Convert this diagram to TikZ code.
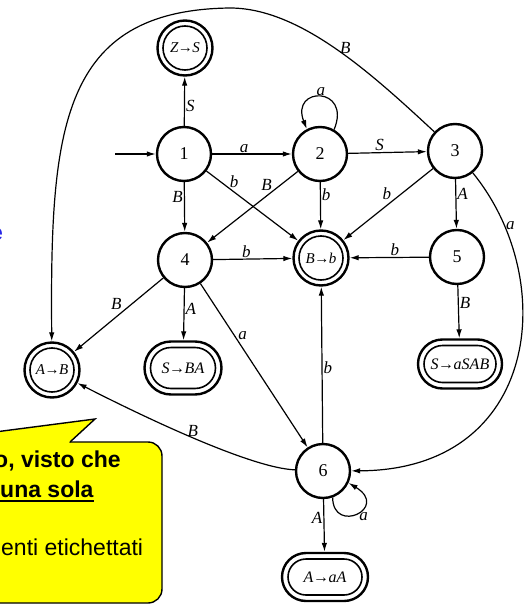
\documentclass[tikz,border=0pt]{standalone}
\usepackage{fontspec}
\setmainfont{Liberation Serif}
\newfontfamily\calloutfont{Liberation Sans}
\usetikzlibrary{arrows.meta}
\definecolor{calloutyellow}{RGB}{255,255,0}
\definecolor{linkblue}{RGB}{40,40,230}
\newcommand{\prodto}{\kern-0.5pt{\upshape→}\kern-0.5pt}
\begin{document}
\begin{tikzpicture}[x=1pt,y=-1pt,
  state/.style={circle, draw, line width=2.4pt, minimum size=54pt, inner sep=0pt,
    font=\fontsize{18}{18}\selectfont},
  finalcirc/.style={circle, draw, line width=2.4pt, minimum size=55pt, inner sep=0pt,
    font=\itshape\fontsize{15}{15}\selectfont,
    path picture={\draw[line width=1.6pt] (path picture bounding box.center) circle (22pt);}},
  finalbox/.style 2 args={rectangle, draw, line width=2.4pt, inner sep=0pt, rounded corners=#1,
    font=\itshape\fontsize{16}{16}\selectfont,
    path picture={\draw[line width=1.6pt, rounded corners=#2]
      ([shift={(6pt,6pt)}]path picture bounding box.south west) rectangle
      ([shift={(-6pt,-6pt)}]path picture bounding box.north east);}},
  conn/.style={line width=1.2pt, -{Latex[length=9pt,width=5.5pt]}},
  lbl/.style={font=\itshape\fontsize{17}{17}\selectfont, inner sep=1pt},
  calltext/.style={inner sep=0pt, font=\calloutfont\fontsize{23}{23}\selectfont},
]
\useasboundingbox (0,0) rectangle (530,604);
\clip (0,0) rectangle (530,604);

% states
\node[state] (n1) at (184,154) {1};
\node[state] (n2) at (320,154) {2};
\node[state] (n3) at (455,151) {3};
\node[state] (n4) at (185,260) {4};
\node[state] (n5) at (457,257) {5};
\node[state] (n6) at (323,471) {6};

% final states (reductions)
\node[finalcirc] (zs) at (185,48) {Z\prodto S};
\node[finalcirc] (bb) at (321,258) {B\prodto b};
\node[finalcirc] (ab) at (52,370) {A\prodto B};
\node[finalbox={26.5pt}{20.5pt}, minimum width=77pt, minimum height=53pt] (sba) at (183,368) {S\prodto BA};
\node[finalbox={24.5pt}{18.5pt}, minimum width=84pt, minimum height=49pt] (sasab) at (460,364) {S\prodto aSAB};
\node[finalbox={24pt}{18pt}, minimum width=86pt, minimum height=48pt] (aaa) at (325,577) {A\prodto aA};

% transitions
\coordinate (init) at (115,154);
\draw[conn] (init) -- (n1);
\draw[conn] (n1) -- node[lbl, pos=0.4, right] {S} (zs);
\draw[conn] (n1) -- node[lbl, pos=0.4, above] {a} (n2);
\draw[conn] (n2.60) .. controls (352,86) and (290,86) .. node[lbl, pos=0.5, above] {a} (n2.118);
\draw[conn] (n2) -- node[lbl, pos=0.4, above] {S} (n3);
\draw[conn] (n1) -- node[lbl, pos=0.3, left] {B} (n4);
\draw[conn] (n1) -- node[lbl, pos=0.25, above right=-1pt] {b} (bb);
\draw[conn] (n2) -- node[lbl, pos=0.28, above left=-1pt] {B} (n4);
\draw[conn] (n2) -- node[lbl, pos=0.27, right] {b} (bb);
\draw[conn] (n3) -- node[lbl, pos=0.45, above left] {b} (bb);
\draw[conn] (n3) -- node[lbl, pos=0.3, right] {A} (n5);
\draw[conn] (n4) -- node[lbl, pos=0.42, above] {b} (bb);
\draw[conn] (n5) -- node[lbl, pos=0.43, above] {b} (bb);
\draw[conn] (n5) -- node[lbl, pos=0.33, right] {B} (sasab);
\draw[conn] (n4) -- node[lbl, pos=0.45, above left] {B} (ab);
\draw[conn] (n4) -- node[lbl, pos=0.4, right] {A} (sba);
\draw[conn] (n4) -- node[lbl, pos=0.32, right=2pt] {a} (n6);
\draw[conn] (n6) -- node[lbl, pos=0.48, right] {b} (bb);
\draw[conn] (n6) .. controls (250,468) and (140,415) .. node[lbl, pos=0.5, above] {B} (ab);
\draw[conn] (n6.-70) .. controls (333,535) and (390,508) .. node[lbl, pos=0.55, below right=-1pt] {a} (n6.-25);
\draw[conn] (n6) -- node[lbl, pos=0.36, left] {A} (aaa);
\draw[conn] (n3) .. controls (560,280) and (540,470) .. node[lbl, pos=0.15, right] {a} (n6);
\draw[conn] (n3) .. controls (372,74) and (300,8) .. node[lbl, pos=0.45, above] {B} (230,8)
  .. controls (60,10) and (50,130) .. (ab);

% note balloon
\draw[line width=1.4pt, fill=calloutyellow, rounded corners=14pt] (-300,442) rectangle (162,603);
\fill[calloutyellow] (68,443.6) -- (95,419) -- (-85,443.6) -- cycle;
\draw[line width=1.4pt, line join=miter] (70,442) -- (95,419) -- (-82,442);
\node[calltext, font=\calloutfont\bfseries\fontsize{23}{23}\selectfont, anchor=base west] (t1) at (-6,467) {o, visto che};
\node[calltext, font=\calloutfont\bfseries\fontsize{23}{23}\selectfont, anchor=base west] (t2) at (0,497) {una sola};
\draw[line width=2pt] ([shift={(-6pt,-3.5pt)}]t2.base west) -- ([shift={(0pt,-3.5pt)}]t2.base east);
\node[calltext, anchor=base west] (t3) at (1,555) {enti etichettati};

% link text at the left margin
\node[inner sep=0pt, text=linkblue, anchor=base east, font=\calloutfont\bfseries\fontsize{23}{23}\selectfont] (linke) at (3,240) {e};
\end{tikzpicture}
\end{document}
